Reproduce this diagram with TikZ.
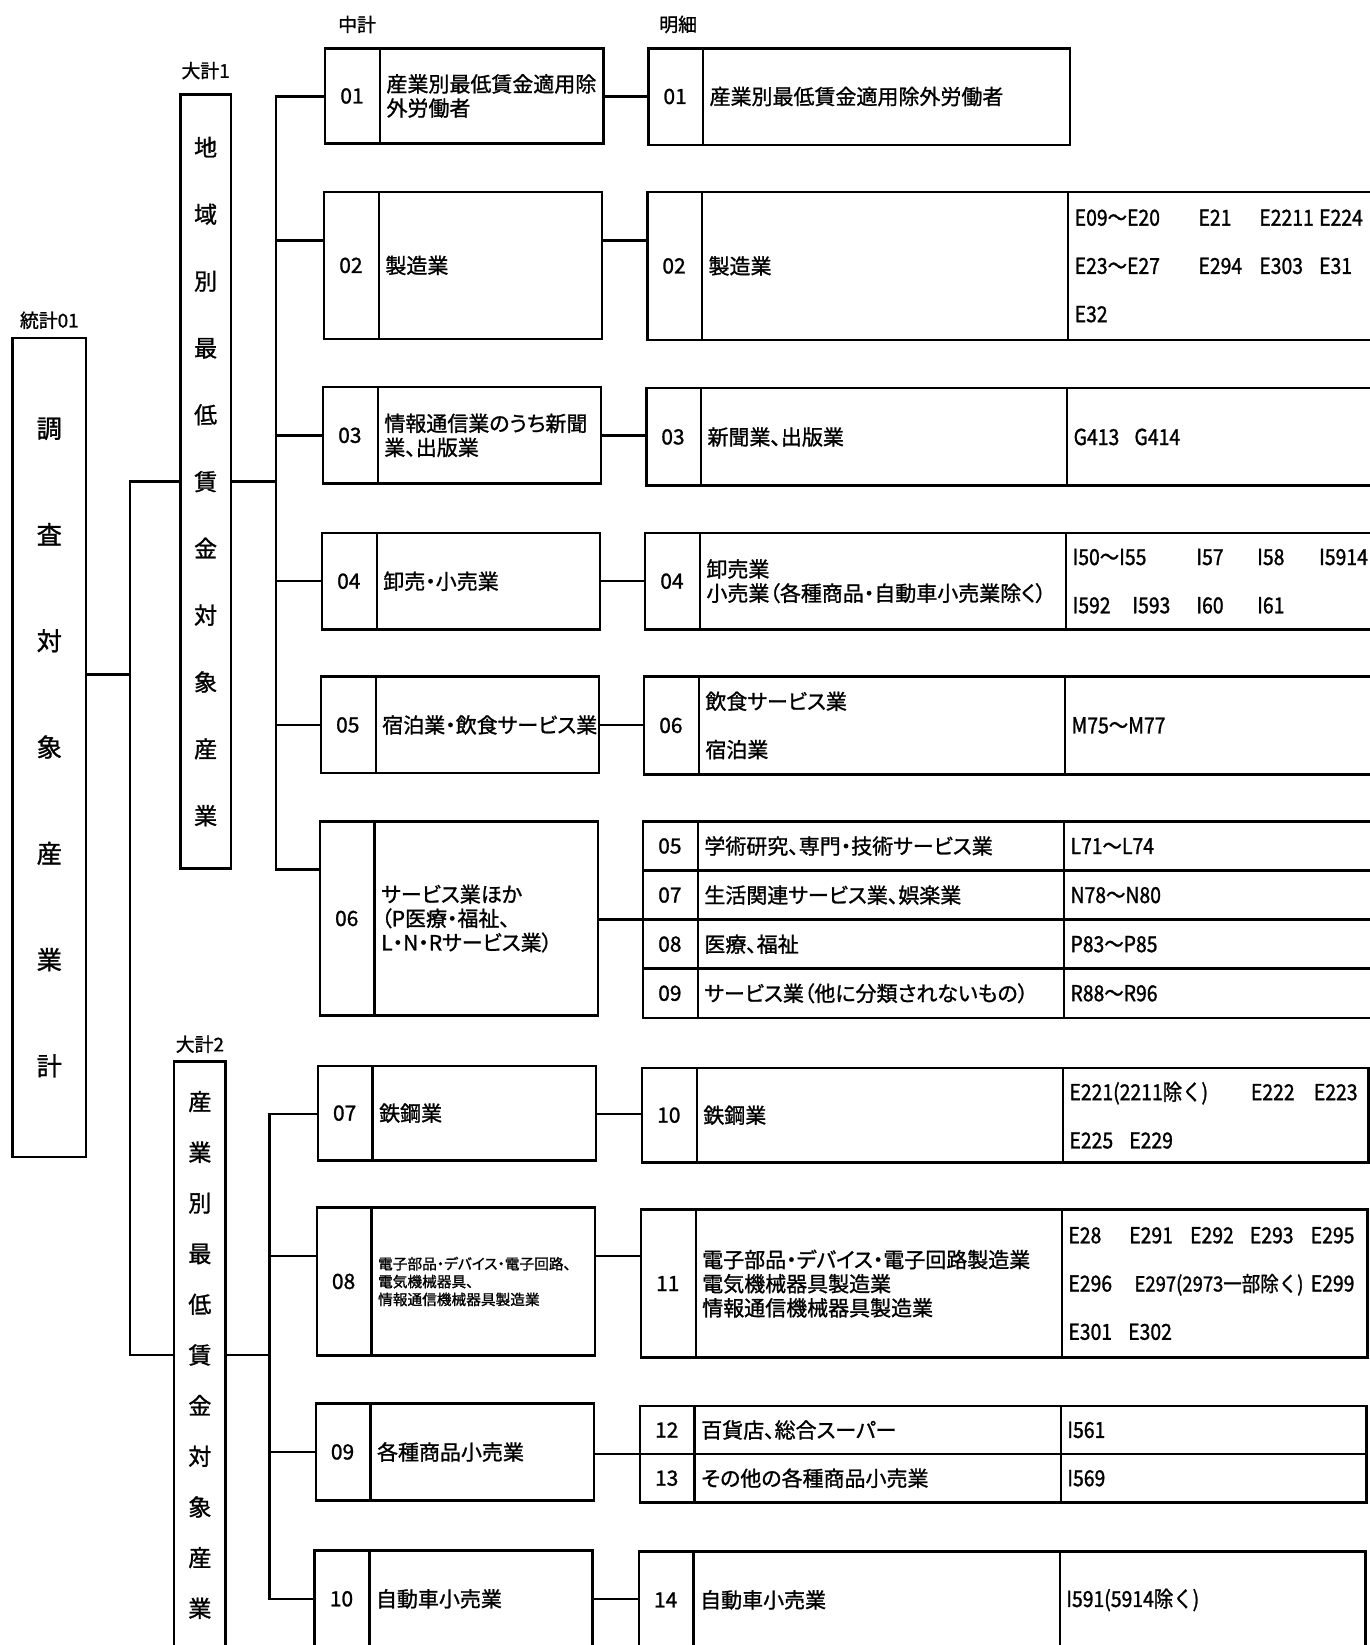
\documentclass[tikz,border=0pt]{standalone}
\usepackage{fontspec}
\setmainfont{Noto Sans CJK JP}[RawFeature=+palt, FakeBold=1.2]
\newfontfamily\codefont{Noto Sans CJK JP}[FakeStretch=0.88, FakeBold=1.2]
\usetikzlibrary{shapes.multipart,positioning,calc}
\newcommand{\codecell}[2]{\parbox[c][#1][c]{25.5pt}{\centering\fontsize{10}{11.5}\selectfont #2}}
\newcommand{\namecell}[3]{\parbox[c][#1][c]{#2}{\fontsize{10}{11.5}\selectfont\raggedright\leftskip=2.5pt #3}}
\newcommand{\listcell}[3]{\parbox[c][#1][c]{#2}{\codefont\fontsize{10.5}{23}\selectfont\raggedright\leftskip=2.5pt #3}}
\tikzset{box/.style={draw, line width=1.2pt, rectangle split, rectangle split horizontal, inner sep=0pt, outer sep=0pt, anchor=north west},
  mid/.style={box, rectangle split parts=2}, det/.style={box, rectangle split parts=3},
  tall/.style={draw, line width=1.2pt, inner sep=0pt, outer sep=0pt, anchor=north west, align=center},
  head/.style={inner sep=0pt, font=\fontsize{9}{10}\selectfont}, link/.style={line width=1.2pt}}

\begin{document}
\begin{tikzpicture}[x=0.5pt, y=-0.5pt]
    \useasboundingbox (0,0) rectangle (1305,1568);
    % totals
    \node[tall, minimum width=35pt, minimum height=390.5pt, font=\fontsize{12}{50.65}\selectfont] (ST) at (12,322) {調\\査\\対\\象\\産\\業\\計};
    \node[tall, minimum width=24pt, minimum height=369pt, font=\fontsize{11}{31.85}\selectfont] (T1) at (172,90) {地\\域\\別\\最\\低\\賃\\金\\対\\象\\産\\業};
    \node[tall, minimum width=24.5pt, minimum height=279.5pt, font=\fontsize{11}{24.15}\selectfont] (T2) at (166,1012) {産\\業\\別\\最\\低\\賃\\金\\対\\象\\産\\業};
    % middle totals
    \node[mid] (m01) at (310,46) {\codecell{45.5pt}{01}\nodepart{two}\namecell{45.5pt}{105.8pt}{産業別最低賃金適用除\\外労働者}};
    \node[mid] (m02) at (309,183) {\codecell{70pt}{02}\nodepart{two}\namecell{70pt}{105.8pt}{製造業}};
    \node[mid] (m03) at (308,369) {\codecell{46pt}{03}\nodepart{two}\namecell{46pt}{105.8pt}{情報通信業のうち新聞\\業、出版業}};
    \node[mid] (m04) at (307,508) {\codecell{46pt}{04}\nodepart{two}\namecell{46pt}{105.8pt}{卸売・小売業}};
    \node[mid] (m05) at (306,645) {\codecell{46pt}{05}\nodepart{two}\namecell{46pt}{105.8pt}{宿泊業・飲食サービス業}};
    \node[mid] (m06) at (305,783) {\codecell{92.5pt}{06}\nodepart{two}\namecell{92.5pt}{105.8pt}{サービス業ほか\\（P医療・福祉、\\L・N・Rサービス業）}};
    \node[mid] (m07) at (303,1016) {\codecell{45pt}{07}\nodepart{two}\namecell{45pt}{105.8pt}{鉄鋼業}};
    \node[mid] (m08) at (302,1151) {\codecell{70.5pt}{08}\nodepart{two}\namecell{70.5pt}{105.8pt}{\fontsize{7}{8.5}\selectfont 電子部品・デバイス・電子回路、\\電気機械器具、\\情報通信機械器具製造業}};
    \node[mid] (m09) at (301,1338) {\codecell{46pt}{09}\nodepart{two}\namecell{46pt}{105.8pt}{各種商品小売業}};
    \node[mid] (m10) at (300,1478) {\codecell{46pt}{10}\nodepart{two}\namecell{46pt}{105.8pt}{自動車小売業}};
    % details
    \node[mid] (d01) at (618,46) {\codecell{46pt}{01}\nodepart{two}\namecell{46pt}{174.3pt}{産業別最低賃金適用除外労働者}};
    \node[det] (d02) at (617,183) {\codecell{70.5pt}{02}\nodepart{two}\namecell{70.5pt}{173.3pt}{製造業}\nodepart{three}\listcell{70.5pt}{146.5pt}{\makebox[59pt][l]{E09～E20}\makebox[29pt][l]{E21}\makebox[28.5pt][l]{E2211}E224\\\makebox[59pt][l]{E23～E27}\makebox[29pt][l]{E294}\makebox[28.5pt][l]{E303}E31\\E32}};
    \node[det] (d03) at (616,370) {\codecell{46.5pt}{03}\nodepart{two}\namecell{46.5pt}{173.3pt}{新聞業、出版業}\nodepart{three}\listcell{46.5pt}{146.5pt}{\makebox[29pt][l]{G413}G414}};
    \node[det] (d04) at (615,508) {\codecell{46pt}{04}\nodepart{two}\namecell{46pt}{173.3pt}{卸売業\\小売業（各種商品・自動車小売業除く）}\nodepart{three}\listcell{46pt}{146.5pt}{\makebox[59pt][l]{I50～I55}\makebox[29pt][l]{I57}\makebox[29.5pt][l]{I58}I5914\\\makebox[28.5pt][l]{I592}\makebox[30.5pt][l]{I593}\makebox[29pt][l]{I60}I61}};
    \node[det] (d06) at (614,645) {\codecell{46.5pt}{06}\nodepart{two}\namecell{46.5pt}{173.3pt}{飲食サービス業\\[11.5pt]宿泊業}\nodepart{three}\listcell{46.5pt}{146.5pt}{M75～M77}};
    \node[det] (d05) at (613,783) {\codecell{23.4pt}{05}\nodepart{two}\namecell{23.4pt}{173.3pt}{学術研究、専門・技術サービス業}\nodepart{three}\listcell{23.4pt}{146.5pt}{L71～L74}};
    \node[det] (d07) at (d05.south west) {\codecell{23.4pt}{07}\nodepart{two}\namecell{23.4pt}{173.3pt}{生活関連サービス業、娯楽業}\nodepart{three}\listcell{23.4pt}{146.5pt}{N78～N80}};
    \node[det] (d08) at (d07.south west) {\codecell{23.4pt}{08}\nodepart{two}\namecell{23.4pt}{173.3pt}{医療、福祉}\nodepart{three}\listcell{23.4pt}{146.5pt}{P83～P85}};
    \node[det] (d09) at (d08.south west) {\codecell{23.4pt}{09}\nodepart{two}\namecell{23.4pt}{173.3pt}{サービス業（他に分類されないもの）}\nodepart{three}\listcell{23.4pt}{146.5pt}{R88～R96}};
    \node[det] (d10) at (612,1018) {\codecell{45pt}{10}\nodepart{two}\namecell{45pt}{173.3pt}{鉄鋼業}\nodepart{three}\listcell{45pt}{145pt}{\makebox[86.5pt][l]{E221(2211除く)}\makebox[30pt][l]{E222}E223\\\makebox[28.5pt][l]{E225}E229}};
    \node[det] (d11) at (611,1153) {\codecell{70.5pt}{11}\nodepart{two}\namecell{70.5pt}{173.3pt}{電子部品・デバイス・電子回路製造業\\電気機械器具製造業\\情報通信機械器具製造業}\nodepart{three}\listcell{70.5pt}{145pt}{\makebox[29pt][l]{E28}\makebox[29pt][l]{E291}\makebox[28.5pt][l]{E292}\makebox[29pt][l]{E293}E295\\\makebox[31.5pt][l]{E296}\makebox[84pt][l]{\fontsize{10}{23}\selectfont E297(2973一部除く)}E299\\\makebox[28.5pt][l]{E301}E302}};
    \node[det] (d12) at (610,1340) {\codecell{23pt}{12}\nodepart{two}\namecell{23pt}{173.3pt}{百貨店、総合スーパー}\nodepart{three}\listcell{23pt}{145pt}{I561}};
    \node[det] (d13) at (d12.south west) {\codecell{23pt}{13}\nodepart{two}\namecell{23pt}{173.3pt}{その他の各種商品小売業}\nodepart{three}\listcell{23pt}{145pt}{I569}};
    \node[det] (d14) at (609,1479) {\codecell{46pt}{14}\nodepart{two}\namecell{46pt}{173.3pt}{自動車小売業}\nodepart{three}\listcell{46pt}{145pt}{I591(5914除く)}};
    % headings
    \node[head, above=4pt of ST] (hST) {統計01};
    \node[head, above=7pt of T1] (hT1) {大計1};
    \node[head, above=4pt of T2] (hT2) {大計2};
    \node[head, above right=7pt and 6pt of m01.north west] (hmid) {中計};
    \node[head, above right=7pt and 5pt of d01.north west] (hdet) {明細};
    % connectors
    \coordinate (b1) at (124,643);
    \coordinate (b2) at (263,459);
    \coordinate (b3) at (257,1291.5);
    \draw[link] (ST.east |- b1) -- (b1);
    \draw[link] (T1.west) -| (b1) |- (T2.west);
    \draw[link] (T1.east) -- (b2);
    \draw[link] (T2.east) -- (b3);
    \foreach \mm in {m01,m02,m03,m04,m05,m06} \draw[link] (b2) |- ([yshift=-23pt]\mm.north west);
    \foreach \mm in {m07,m08,m09,m10} \draw[link] (b3) |- ([yshift=-23pt]\mm.north west);
    \foreach \src/\dst in {m01/d01,m02/d02,m03/d03,m04/d04,m05/d06,m07/d10,m08/d11,m10/d14}
        \draw[link] ([yshift=-23pt]\src.north east) -- ([yshift=-23pt]\src.north east -| \dst.west);
    \draw[link] (d08.north west -| m06.east) -- (d08.north west);
    \draw[link] (d13.north west -| m09.east) -- (d13.north west);
\end{tikzpicture}
\end{document}
